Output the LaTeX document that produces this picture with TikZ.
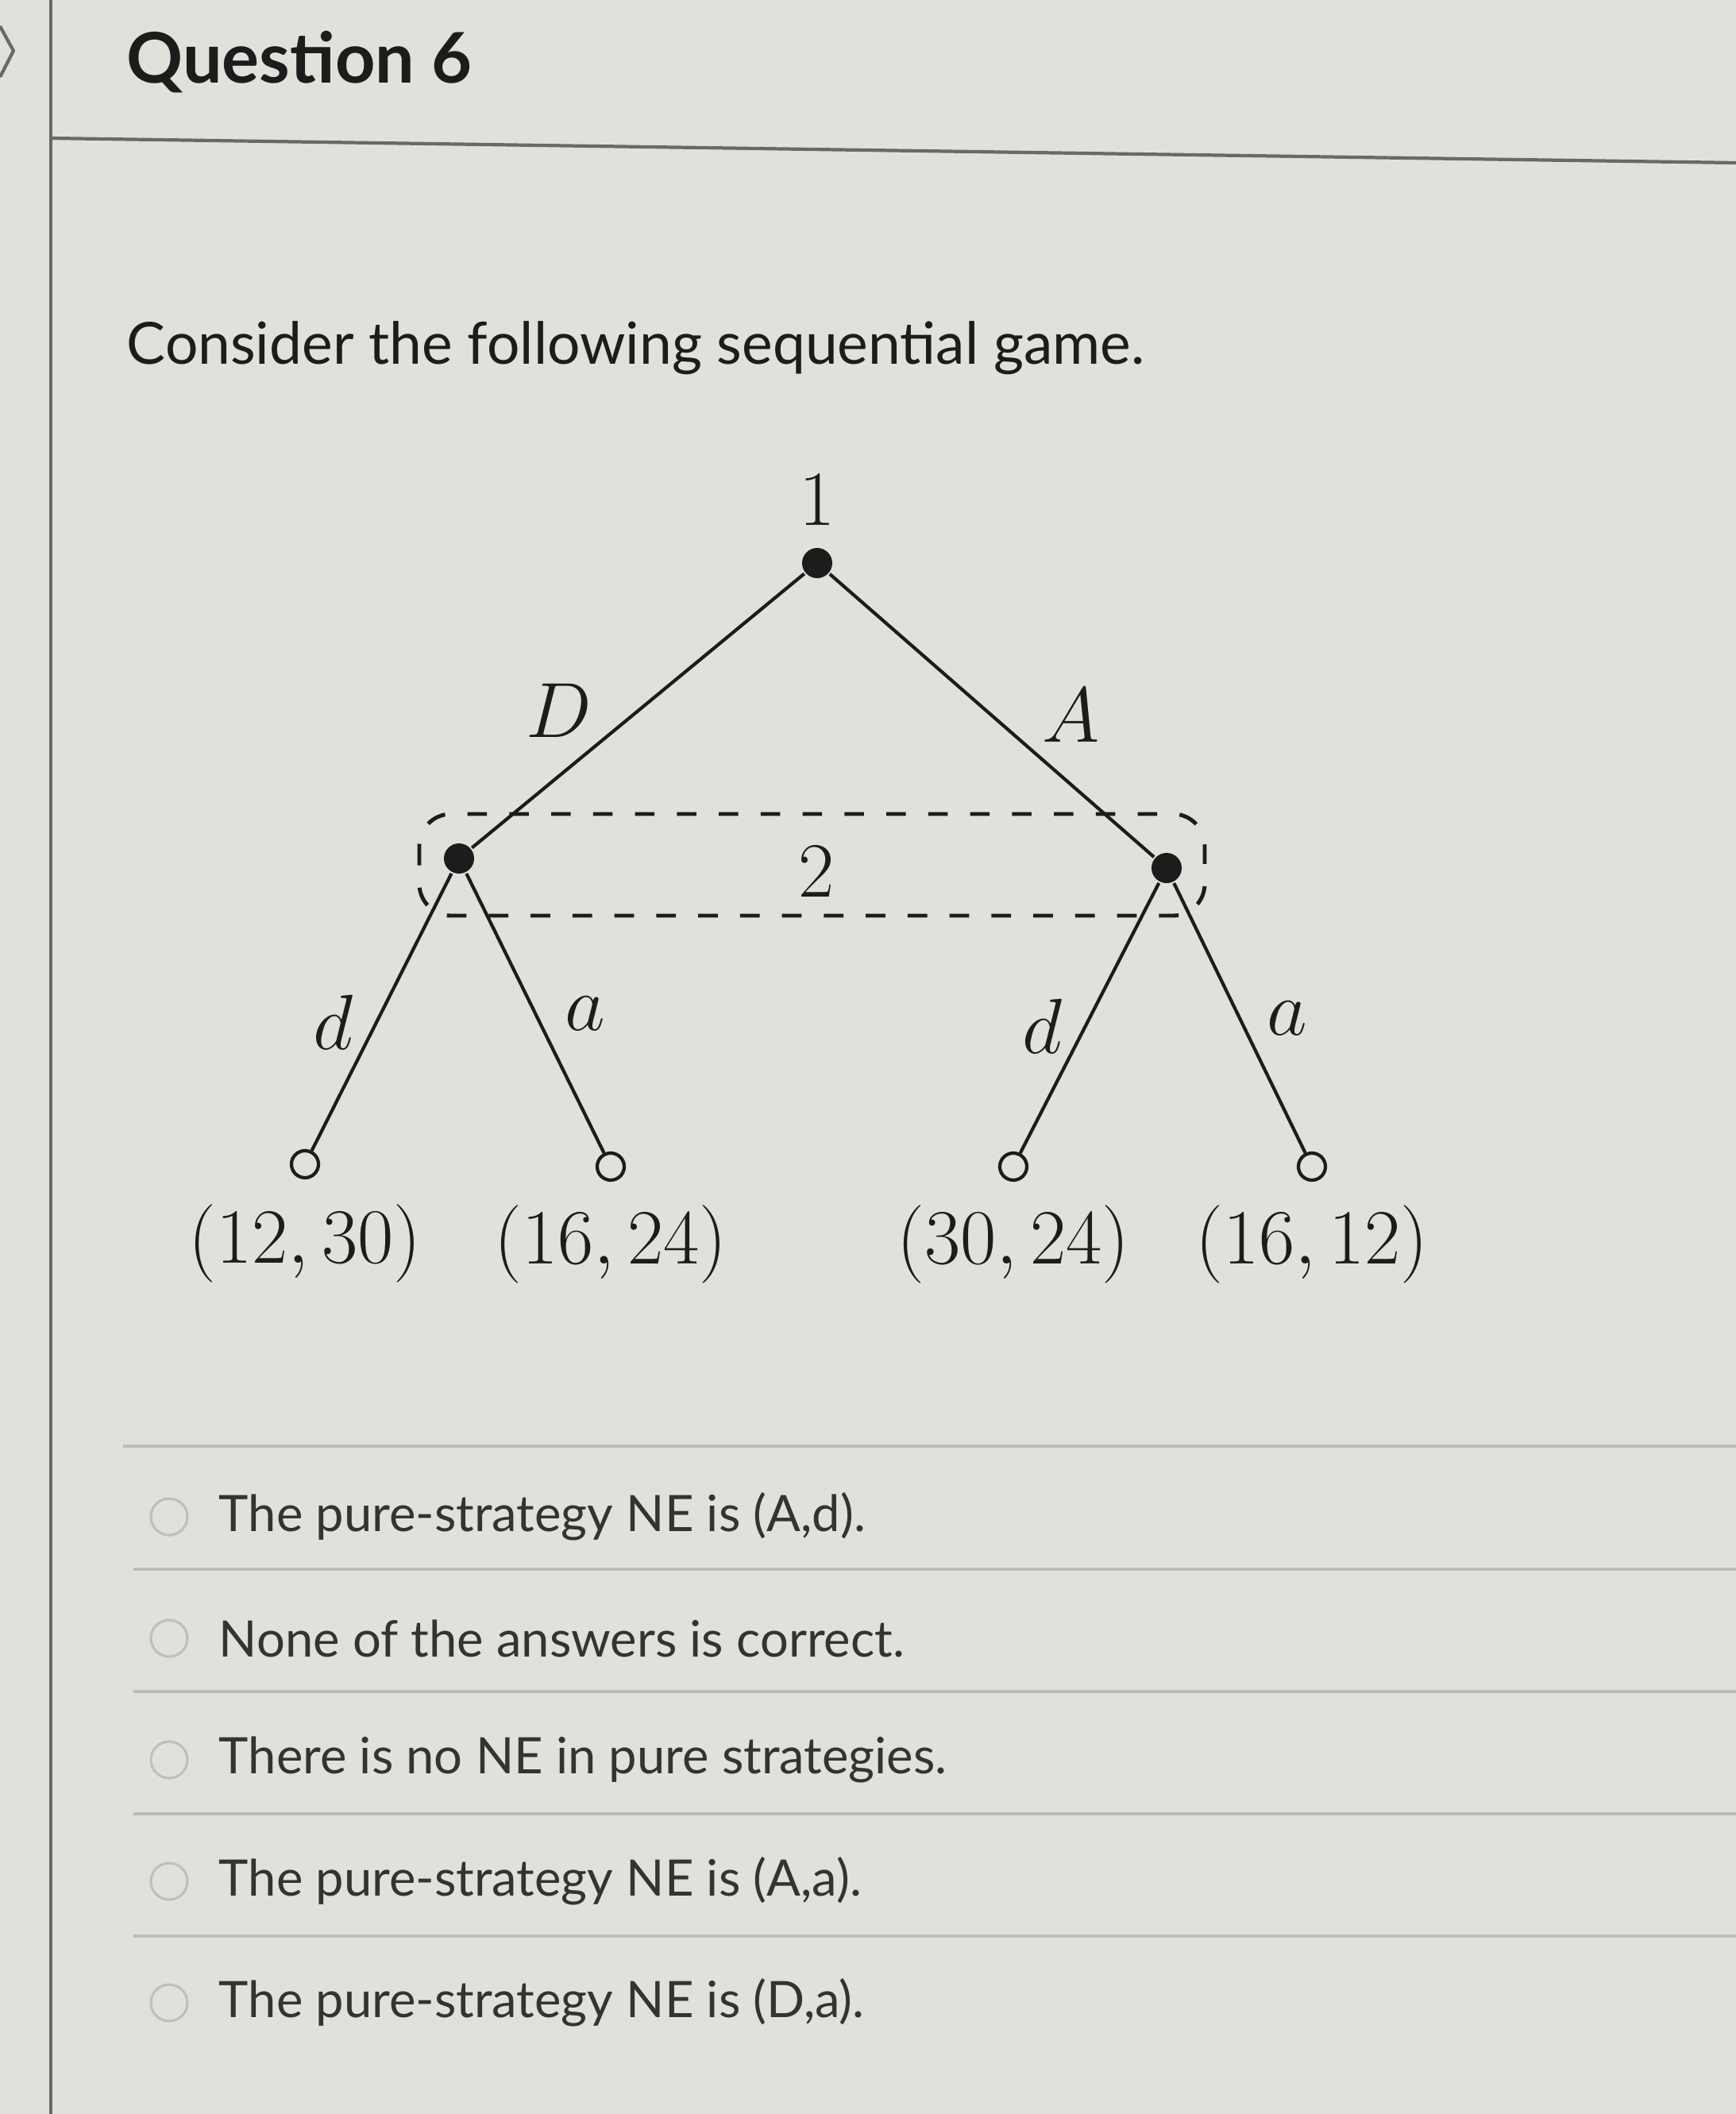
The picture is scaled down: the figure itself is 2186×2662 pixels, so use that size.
\RequirePackage{fix-cm}
\documentclass[tikz,border=0pt]{standalone}
\usepackage[no-math]{fontspec}
\setmainfont{Lato}
\usepackage{tikz}
\usetikzlibrary{calc,positioning}

\definecolor{paper}{RGB}{226,224,219}
\definecolor{ink}{RGB}{28,28,28}
\definecolor{rulegray}{RGB}{105,105,105}
\definecolor{sepgray}{RGB}{190,188,183}

\begin{document}
\begin{tikzpicture}[x=0.01cm, y=-0.01cm, line width=1.2pt,
    decision/.style={circle, fill=ink, inner sep=0pt, minimum size=0.38cm},
    outcome/.style={circle, draw=ink, fill=paper, inner sep=0pt, minimum size=0.34cm},
    infoset/.style={draw=ink, line width=1.4pt, dash pattern=on 7pt off 8pt, rounded corners=0.4cm},
    payoff/.style={font=\fontsize{28}{33}\selectfont, text=ink},
    movelabel/.style={font=\fontsize{28}{33}\selectfont, text=ink, midway},
    answer/.style={anchor=west, font=\fontsize{18}{22}\selectfont, text=ink!90},
    radio/.style={circle, draw=black!25, line width=0.9pt, minimum size=0.46cm, inner sep=0pt}]

      % Page
      \useasboundingbox (0,0) rectangle (2186,2662);
      \fill[paper] (0,0) rectangle (2186,2662);
      \draw[rulegray, line width=1.2pt, line join=round] (0,33) -- (17,64) -- (0,97);
      \draw[rulegray, line width=1pt] (64,0) -- (64,2662);
      \draw[rulegray, line width=1.2pt] (64,174) -- (2186,205);

      % Heading and question
      \node[anchor=west, font=\fontsize{25}{30}\selectfont\bfseries, text=ink] (title) at (146,78) {Question 6};
      \node[anchor=west, font=\fontsize{20.8}{25}\selectfont, text=ink] (question) at (146,438) {Consider the following sequential game.};

      % Game tree nodes
      \node[decision] (root) at (1029,709) {};
      \node[payoff] (p1) at ($(root)+(0,-79)$) {$1$};
      \node[decision] (n2L) at (578,1081) {};
      \node[decision] (n2R) at (1469,1093) {};
      \node[outcome] (tLd) at (384,1466) {};
      \node[outcome] (tLa) at (769,1469) {};
      \node[outcome] (tRd) at (1276,1469) {};
      \node[outcome] (tRa) at (1652,1469) {};

      % Information set of player 2
      \draw[infoset] ($(n2L)+(-50,-56)$) rectangle ($(n2R)+(48,60)$);
      \node[payoff] (p2) at ($(n2L)!0.5!(n2R)+(5,11)$) {$2$};

      % Moves
      \draw[ink] (root) -- node[movelabel, xshift=-1cm] {$D$} (n2L);
      \draw[ink] (root) -- node[movelabel, xshift=1cm] {$A$} (n2R);
      \draw[ink] (n2L) -- node[movelabel, xshift=-0.61cm, yshift=-0.13cm] {$d$} (tLd);
      \draw[ink] (n2L) -- node[movelabel, xshift=0.63cm] {$a$} (tLa);
      \draw[ink] (n2R) -- node[movelabel, xshift=-0.59cm, yshift=-0.1cm] {$d$} (tRd);
      \draw[ink] (n2R) -- node[movelabel, xshift=0.6cm] {$a$} (tRa);

      % Payoffs
      \node[payoff] (uLd) at ($(tLd)+(0,100)$) {$(12,30)$};
      \node[payoff] (uLa) at ($(tLa)+(0,98)$) {$(16,24)$};
      \node[payoff] (uRd) at ($(tRd)+(0,98)$) {$(30,24)$};
      \node[payoff] (uRa) at ($(tRa)+(0,98)$) {$(16,12)$};

      % Answers
      \draw[sepgray, line width=1pt] (155,1821) -- (2186,1821);
      \foreach \y in {1976,2130,2284,2438}
        \draw[sepgray, line width=1pt] (168,\y) -- (2186,\y);
      \foreach \txt [count=\i from 0] in {{The pure-strategy NE is (A,d).},
          {None of the answers is correct.}, {There is no NE in pure strategies.},
          {The pure-strategy NE is (A,a).}, {The pure-strategy NE is (D,a).}} {
        \node[radio] (radio\i) at (213,1910+153*\i) {};
        \node[answer] (answer\i) at (262,1910+153*\i) {\txt};
      }

    \end{tikzpicture}
\end{document}
